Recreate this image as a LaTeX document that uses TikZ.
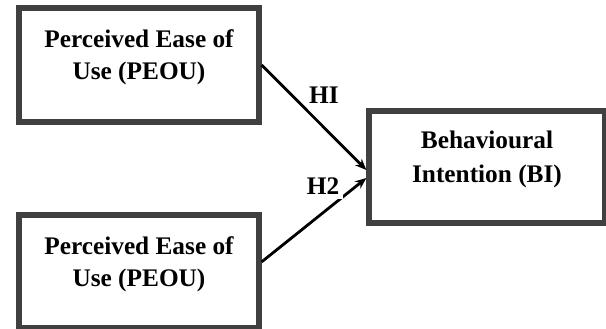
\documentclass[tikz,border=0pt]{standalone}
\usepackage{fontspec}
\setmainfont{Liberation Serif}
\usetikzlibrary{positioning,arrows.meta}
\definecolor{boxgray}{HTML}{404040}
\newcommand{\padbelow}{\rule[-14.5pt]{0pt}{0pt}}

\begin{document}
\begin{tikzpicture}[
  x=0.025cm, y=-0.025cm,
  construct/.style={rectangle, draw=boxgray, line width=0.13cm, minimum width=6cm, minimum height=2.85cm, align=center, font=\fontsize{18}{22.5}\selectfont\bfseries},
  hyp/.style={font=\fontsize{18}{22}\selectfont\bfseries, inner sep=3pt},
  >={Stealth[length=8pt,width=6.5pt]}
]
  \useasboundingbox (0,0) rectangle (606,329);

  \node[construct] (peou1) at (139,65) {Perceived Ease of\\Use (PEOU)\padbelow};
  \node[construct, minimum height=2.825cm] (peou2) at (139,271.5) {Perceived Ease of\\Use (PEOU)\padbelow};
  \node[construct, minimum width=5.9cm, minimum height=2.8cm, font=\fontsize{18}{24}\selectfont\bfseries] (bi) at (487,167) {Behavioural\\Intention (BI)\padbelow};

  \draw[->, line width=0.07cm] (peou1.east) -- ([yshift=-0.075cm]bi.west);
  \draw[->, line width=0.07cm] ([yshift=0.24cm]peou2.east) -- ([yshift=-0.275cm]bi.west);

  \node[hyp] (h1) at (324,95) {HI};
  \node[hyp, fill=white] (h2) at (323,186) {H2};
\end{tikzpicture}
\end{document}
